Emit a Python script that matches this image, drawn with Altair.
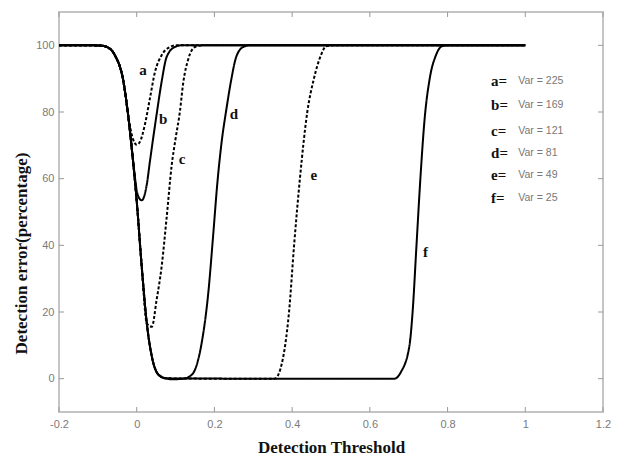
import altair as alt
import pandas as pd

# ---- curve data ----
# shared falling edge (all curves start at 100 and fall together)
fall_x = [-0.2, -0.12, -0.09, -0.073, -0.056, -0.034, -0.022]
fall_y = [100, 100, 99.9, 99.3, 97, 89, 79]

a_x = [-0.01, 0.0, 0.008, 0.021, 0.034, 0.047, 0.064, 0.086, 0.1, 1.0]
a_y = [72, 70.2, 71, 76.2, 84.1, 92, 97, 99.5, 100, 100]

b_x = [-0.01, 0.003, 0.013, 0.026, 0.034, 0.051, 0.064, 0.077, 0.098, 0.115, 1.0]
b_y = [66, 55, 53.5, 58.3, 65.2, 79.1, 89, 96.5, 99.5, 100, 100]

c_x = [-0.01, 0.0, 0.013, 0.026, 0.039, 0.051, 0.064, 0.077, 0.09, 0.1, 0.111, 0.12, 0.133, 0.15, 0.17, 1.0]
c_y = [66, 53.3, 33.5, 16.6, 15.6, 23.5, 33.5, 48.3, 64, 72, 80, 89, 96, 99.5, 100, 100]

d_x = [-0.01, 0.0, 0.013, 0.026, 0.039, 0.056, 0.075, 0.09, 0.12, 0.135, 0.15, 0.167, 0.184, 0.197,
       0.207, 0.218, 0.231, 0.243, 0.256, 0.274, 0.29, 1.0]
d_y = [66, 53.3, 33.5, 16.6, 6.6, 1.2, 0.1, -0.2, 0, 0.6, 2.7, 10.6, 25.5, 43.4,
       58, 70.5, 81, 89.5, 96.5, 99.5, 100, 100]

e_x = [-0.01, 0.0, 0.013, 0.026, 0.039, 0.056, 0.075, 0.2, 0.355, 0.37, 0.382, 0.392, 0.405, 0.42,
       0.439, 0.456, 0.474, 0.487, 0.505, 1.0]
e_y = [66, 53.3, 33.5, 16.6, 6.6, 1.2, 0.1, 0, 0, 3, 10, 20, 40, 60,
       80, 90, 97, 99.7, 100, 100]

f_x = [-0.01, 0.0, 0.013, 0.026, 0.039, 0.056, 0.075, 0.3, 0.663, 0.68, 0.702, 0.71, 0.72, 0.73,
       0.741, 0.754, 0.77, 0.785, 0.8, 1.0]
f_y = [66, 53.3, 33.5, 16.6, 6.6, 1.2, 0.1, 0, 0, 2, 10, 20, 40, 60,
       78, 90, 97, 99.7, 100, 100]

series = {"a": (a_x, a_y), "b": (b_x, b_y), "c": (c_x, c_y),
          "d": (d_x, d_y), "e": (e_x, e_y), "f": (f_x, f_y)}
dashed = ["a", "c", "e"]

# curve labels
lbl_names = ["a", "b", "c", "d", "e", "f"]
lbl_x = [0.016, 0.068, 0.117, 0.25, 0.456, 0.743]
lbl_y = [92.5, 78, 66, 79.5, 61, 38]

# legend text
leg_keys = ["a=", "b=", "c=", "d=", "e=", "f="]
leg_vals = ["Var = 225", "Var = 169", "Var = 121", "Var = 81", "Var = 49", "Var = 25"]
leg_y = [89.3, 82.1, 74.3, 67.8, 61.2, 54.3]

x_ticks = [-0.2, 0, 0.2, 0.4, 0.6, 0.8, 1.0, 1.2]
y_ticks = [0, 20, 40, 60, 80, 100]

rows = []
for name, (xs_, ys_) in series.items():
    pts = list(zip(fall_x, fall_y)) + list(zip(xs_, ys_))
    for i, (x, y) in enumerate(pts):
        rows.append({"s": name, "x": x, "y": y, "o": i,
                     "dash": "dashed" if name in dashed else "solid"})
df = pd.DataFrame(rows)

xs = alt.Scale(domain=[-0.2, 1.2], nice=False)
ys = alt.Scale(domain=[-10, 110], nice=False)

serif = "Liberation Serif"

x_axis = alt.Axis(values=x_ticks, format="~g", labelExpr="replace(datum.label, '\u2212', '-')",
                  ticks=False, domain=False, grid=False, labelColor="#7a7a7a",
                  labelFontSize=11, labelFont="Liberation Sans", labelPadding=6, labelFlush=False,
                  title="Detection Threshold", titleFont=serif, titleFontSize=17,
                  titleFontWeight="bold", titleColor="#111", titlePadding=10)
y_axis = alt.Axis(values=y_ticks, ticks=False, domain=False, grid=False, labelColor="#7a7a7a",
                  labelFontSize=11, labelFont="Liberation Sans", labelPadding=5, labelFlush=False,
                  title="Detection error(percentage)", titleFont=serif, titleFontSize=17,
                  titleFontWeight="bold", titleColor="#111", titlePadding=5, titleY=241)

lines = alt.Chart(df).mark_line(color="black", strokeWidth=2, interpolate="monotone").encode(
    x=alt.X("x:Q", scale=xs, axis=x_axis),
    y=alt.Y("y:Q", scale=ys, axis=y_axis),
    detail="s:N",
    order="o:Q",
    strokeDash=alt.StrokeDash("dash:N", scale=alt.Scale(domain=["solid", "dashed"],
                                                         range=[[1, 0], [3, 2]]), legend=None),
)

lab_df = pd.DataFrame({"t": lbl_names, "x": lbl_x, "y": lbl_y})
labels = alt.Chart(lab_df).mark_text(font=serif, fontSize=15, fontWeight="bold",
                                     color="#111").encode(
    x=alt.X("x:Q", scale=xs), y=alt.Y("y:Q", scale=ys), text="t:N")

leg_df = pd.DataFrame({"k": leg_keys, "v": leg_vals, "y": leg_y,
                       "kx": [0.912] * 6, "vx": [0.982] * 6})
leg_k = alt.Chart(leg_df).mark_text(font=serif, fontSize=15, fontWeight="bold",
                                    color="#111", align="left").encode(
    x=alt.X("kx:Q", scale=xs), y=alt.Y("y:Q", scale=ys), text="k:N")
leg_v = alt.Chart(leg_df).mark_text(font="Liberation Sans", fontSize=10.5,
                                    color="#777", align="left").encode(
    x=alt.X("vx:Q", scale=xs), y=alt.Y("y:Q", scale=ys), text="v:N")

xt = pd.DataFrame({"x": x_ticks})
yt = pd.DataFrame({"y": y_ticks})
tick_col = "#999"
xb = alt.Chart(xt).mark_rule(color=tick_col).encode(x=alt.X("x:Q", scale=xs), y=alt.value(400), y2=alt.value(395))
xtop = alt.Chart(xt).mark_rule(color=tick_col).encode(x=alt.X("x:Q", scale=xs), y=alt.value(0), y2=alt.value(5))
yl = alt.Chart(yt).mark_rule(color=tick_col).encode(y=alt.Y("y:Q", scale=ys), x=alt.value(0), x2=alt.value(5))
yr = alt.Chart(yt).mark_rule(color=tick_col).encode(y=alt.Y("y:Q", scale=ys), x=alt.value(544), x2=alt.value(539))

chart = alt.layer(xb, xtop, yl, yr, lines, labels, leg_k, leg_v).properties(
    width=544, height=400,
    autosize=alt.AutoSizeParams(type="none"),
    padding={"left": 59, "top": 12, "right": 20, "bottom": 47},
    background="white",
).configure_view(stroke="#c4c4c4", strokeWidth=2)

chart.save("out.html", embed_options={"renderer": "svg", "actions": False})
